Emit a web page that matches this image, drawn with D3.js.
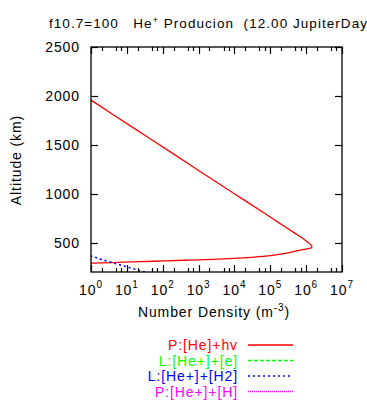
<!DOCTYPE html>
<html><head><meta charset="utf-8">
<script src="https://cdn.jsdelivr.net/npm/d3@7/dist/d3.min.js"></script>
<style>
body{margin:0;background:#fff;}
svg{display:block;font-family:"Liberation Sans",Arial,sans-serif;}
text{white-space:pre;}
</style></head><body>
<svg id="c" width="367" height="401"></svg>
<script>
// ---- data ----
const xTickExps = [0,1,2,3,4,5,6,7];
const yTicks = [500,1000,1500,2000,2500];
const redAlt = [280,290,300,310,320,330,340,350,360,370,380,390,400,410,420,430,440,450,460,470,480,500,520,550,600,700,800,1000,1200,1400,1600,1800,2000];
const redVal = [0.32,1.1,7.9,56,400,2500,1.0e4,3.0e4,6.3e4,1.15e5,1.8e5,2.6e5,3.6e5,4.7e5,6.3e5,8.6e5,1.18e6,1.42e6,1.45e6,1.4e6,1.33e6,1.15e6,9.8e5,7.6e5,4.7e5,1.8e5,6.9e4,1.0e4,1.45e3,214,31,4.5,0.66];
const blueAlt = [200,225,250,275,300,325,350,370,390];
const blueVal = [32,18,10.5,6.2,3.6,2.1,1.3,0.85,0.55];
const greenAlt = [200,300,400,500];
const greenVal = [0.01,0.01,0.01,0.01];
const magAlt = [200,300,400,500];
const magVal = [0.01,0.01,0.01,0.01];
const legendLabels = ["P:[He]+hv","L:[He+]+[e]","L:[He+]+[H2]","P:[He+]+[H]"];
const legendColors = ["#ff0000","#00ff00","#0000ff","#ff00ff"];
const legendDash = [null,"4,2","2,3","1,1"];

const svg = d3.select("#c");
const L=91,R=342,T=47,B=272;
const x = d3.scaleLog().domain([1,1e7]).range([L,R]);
const y = d3.scaleLinear().domain([200,2500]).range([B,T]);
const LS = 0.9;

// title
const title = svg.append("text").attr("x",49).attr("y",28).attr("font-size",13.5).attr("letter-spacing",1.05).attr("fill","#000");
title.append("tspan").text("f10.7=100   He");
title.append("tspan").attr("dy",-5).attr("font-size",9).text("+");
title.append("tspan").attr("dy",5).text(" Producion  (12.00 JupiterDays)");

// clip
svg.append("clipPath").attr("id","pc").append("rect").attr("x",L).attr("y",T).attr("width",R-L).attr("height",B-T);

const line = d3.line().x(d=>x(Math.max(d[1],1e-3))).y(d=>y(d[0]));
const g = svg.append("g").attr("clip-path","url(#pc)");
function series(alt,val,color,dash,w){
  const p = g.append("path").datum(alt.map((a,i)=>[a,val[i]]))
   .attr("d",line.curve(d3.curveMonotoneY)).attr("fill","none").attr("stroke",color).attr("stroke-width",w);
  if(dash) p.attr("stroke-dasharray",dash);
}
series(redAlt,redVal,"#ff0000",null,1.3);
series(greenAlt,greenVal,"#00ff00","4,2",1.3);
series(blueAlt,blueVal,"#0000ff","2,3",1.6);
series(magAlt,magVal,"#ff00ff","1,1",1.2);

// frame
svg.append("rect").attr("x",L).attr("y",T).attr("width",R-L).attr("height",B-T).attr("fill","none").attr("stroke","#000").attr("stroke-width",1.3);

// x ticks
const ax = svg.append("g").attr("stroke","#000").attr("stroke-width",1.2);
xTickExps.forEach(e=>{
  const xx = Math.round(x(Math.pow(10,e)))+0.5;
  ax.append("line").attr("x1",xx).attr("x2",xx).attr("y1",B).attr("y2",B-7);
  ax.append("line").attr("x1",xx).attr("x2",xx).attr("y1",T).attr("y2",T+7);
  if(e<7){[2,5,7].forEach(m=>{
    const mx = Math.round(x(m*Math.pow(10,e)))+0.5;
    ax.append("line").attr("x1",mx).attr("x2",mx).attr("y1",B).attr("y2",B-4);
    ax.append("line").attr("x1",mx).attr("x2",mx).attr("y1",T).attr("y2",T+4);
  });}
  const t = svg.append("text").attr("x",x(Math.pow(10,e))).attr("y",295).attr("font-size",14).attr("letter-spacing",LS).attr("text-anchor","middle");
  t.append("tspan").text("10");
  t.append("tspan").attr("dy",-7).attr("font-size",10).text(String(e));
});
// y ticks
yTicks.forEach(v=>{
  const yy = Math.round(y(v))+0.5;
  ax.append("line").attr("x1",L).attr("x2",L+7).attr("y1",yy).attr("y2",yy);
  ax.append("line").attr("x1",R).attr("x2",R-7).attr("y1",yy).attr("y2",yy);
  svg.append("text").attr("x",80).attr("y",y(v)+5).attr("font-size",14).attr("letter-spacing",LS).attr("text-anchor","end").text(String(v));
});

// axis labels
const xl = svg.append("text").attr("x",214).attr("y",317).attr("font-size",14).attr("letter-spacing",LS).attr("text-anchor","middle");
xl.append("tspan").text("Number Density (m");
xl.append("tspan").attr("dy",-6).attr("font-size",10).text("-3");
xl.append("tspan").attr("dy",6).text(")");
svg.append("text").attr("transform","translate(21,160) rotate(-90)").attr("font-size",14).attr("letter-spacing",LS).attr("text-anchor","middle").text("Altitude (km)");

// legend
legendLabels.forEach((lab,i)=>{
  const yy = 345 + i*15.5;
  svg.append("text").attr("x",238).attr("y",yy+5).attr("font-size",14).attr("letter-spacing",LS).attr("text-anchor","end").attr("fill",legendColors[i]).text(lab);
  const l = svg.append("line").attr("x1",248).attr("x2",293).attr("y1",yy).attr("y2",yy).attr("stroke",legendColors[i]).attr("stroke-width",i==2?1.6:1.3);
  if(legendDash[i]) l.attr("stroke-dasharray",legendDash[i]);
});
</script>
</body></html>
